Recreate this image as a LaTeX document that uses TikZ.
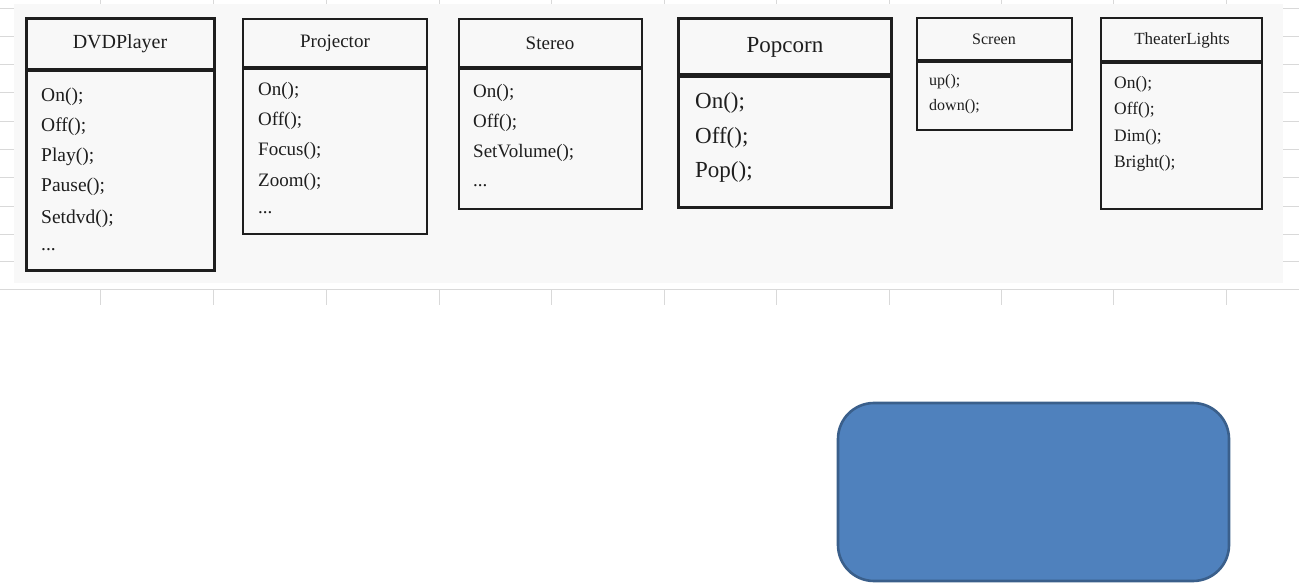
\documentclass[tikz,border=0pt]{standalone}
\usepackage{fontspec}
\setmainfont{Liberation Serif}
\definecolor{bggrey}{HTML}{F8F8F8}
\definecolor{gridgrey}{HTML}{D9D9D9}
\definecolor{ink}{HTML}{1E1E1E}
\definecolor{shapeblue}{HTML}{4F81BD}
\definecolor{shapeedge}{HTML}{3A5F8B}
\begin{document}
\begin{tikzpicture}[x=1pt,y=-1pt,
  gridline/.style={draw=gridgrey,line width=1pt},
  clsbox/.style={draw=ink,line width=2.6pt},
  divline/.style={draw=ink,line width=3.2pt},
  item/.style={anchor=west,inner sep=0pt,text=ink},
  ttl/.style={anchor=center,inner sep=0pt,text=ink}]
\useasboundingbox (0,0) rectangle (1299,585);
% spreadsheet background
\fill[bggrey] (14,4) rectangle (1283,283);
\draw[gridline] (0,290) -- (1299,290);
\foreach \gx in {100,213,326,439,551,664,776,889,1001,1113,1226} {
  \draw[gridline] (\gx,290) -- (\gx,305);
  \draw[gridline] (\gx,0) -- (\gx,4);
}
\foreach \gy in {9,37,65,93,122,150,178,207,235,262} {
  \draw[gridline] (0,\gy) -- (14,\gy);
  \draw[gridline] (1283,\gy) -- (1299,\gy);
}
% DVDPlayer
\draw[clsbox,line width=3pt] (26,19) rectangle (214,271);
\draw[divline,line width=4pt] (26,70) -- (214,70);
\node[ttl,font=\fontsize{20}{20}\selectfont] (dvd) at (120,44) {DVDPlayer};
\node[item,font=\fontsize{19.5}{20}\selectfont] (dvd1) at (41,97) {On();};
\node[item,font=\fontsize{19.5}{20}\selectfont] (dvd2) at (41,127) {Off();};
\node[item,font=\fontsize{19.5}{20}\selectfont] (dvd3) at (41,157) {Play();};
\node[item,font=\fontsize{19.5}{20}\selectfont] (dvd4) at (41,187) {Pause();};
\node[item,font=\fontsize{19.5}{20}\selectfont] (dvd5) at (41,219) {Setdvd();};
\node[item,font=\fontsize{19.5}{20}\selectfont] (dvd6) at (41,250) {...};
% Projector
\draw[clsbox] (243,19) rectangle (427,234);
\draw[divline] (243,68) -- (427,68);
\node[ttl,font=\fontsize{19}{19}\selectfont] (proj) at (335,43) {Projector};
\node[item,font=\fontsize{19}{20}\selectfont] (proj1) at (258,91) {On();};
\node[item,font=\fontsize{19}{20}\selectfont] (proj2) at (258,121) {Off();};
\node[item,font=\fontsize{19}{20}\selectfont] (proj3) at (258,151) {Focus();};
\node[item,font=\fontsize{19}{20}\selectfont] (proj4) at (258,182) {Zoom();};
\node[item,font=\fontsize{19}{20}\selectfont] (proj5) at (258,213) {...};
% Stereo
\draw[clsbox] (459,19) rectangle (642,209);
\draw[divline] (459,68) -- (642,68);
\node[ttl,font=\fontsize{19}{19}\selectfont] (ster) at (550,43) {Stereo};
\node[item,font=\fontsize{19}{20}\selectfont] (ster1) at (473,93) {On();};
\node[item,font=\fontsize{19}{20}\selectfont] (ster2) at (473,123) {Off();};
\node[item,font=\fontsize{19}{20}\selectfont] (ster3) at (473,153) {SetVolume();};
\node[item,font=\fontsize{19}{20}\selectfont] (ster4) at (473,186) {...};
% Popcorn
\draw[clsbox,line width=3pt] (678,19) rectangle (891,208);
\draw[divline,line width=5pt] (678,76) -- (891,76);
\node[ttl,font=\fontsize{23}{23}\selectfont] (pop) at (785,47) {Popcorn};
\node[item,font=\fontsize{23}{24}\selectfont] (pop1) at (695,103) {On();};
\node[item,font=\fontsize{23}{24}\selectfont] (pop2) at (695,138) {Off();};
\node[item,font=\fontsize{23}{24}\selectfont] (pop3) at (695,172) {Pop();};
% Screen
\draw[clsbox] (917,18) rectangle (1072,130);
\draw[divline] (917,61) -- (1072,61);
\node[ttl,font=\fontsize{16}{16}\selectfont] (scr) at (994,39) {Screen};
\node[item,font=\fontsize{16}{17}\selectfont] (scr1) at (929,82) {up();};
\node[item,font=\fontsize{16}{17}\selectfont] (scr2) at (929,107) {down();};
% TheaterLights
\draw[clsbox] (1101,18) rectangle (1262,209);
\draw[divline] (1101,62) -- (1262,62);
\node[ttl,font=\fontsize{17}{17}\selectfont] (tl) at (1182,40) {TheaterLights};
\node[item,font=\fontsize{17.5}{18}\selectfont] (tl1) at (1114,84) {On();};
\node[item,font=\fontsize{17.5}{18}\selectfont] (tl2) at (1114,110) {Off();};
\node[item,font=\fontsize{17.5}{18}\selectfont] (tl3) at (1114,137) {Dim();};
\node[item,font=\fontsize{17.5}{18}\selectfont] (tl4) at (1114,163) {Bright();};
% blue rounded rectangle
\filldraw[fill=shapeblue,draw=shapeedge,line width=2.6pt,rounded corners=36pt] (838,403) rectangle (1229,581);
\end{tikzpicture}
\end{document}
